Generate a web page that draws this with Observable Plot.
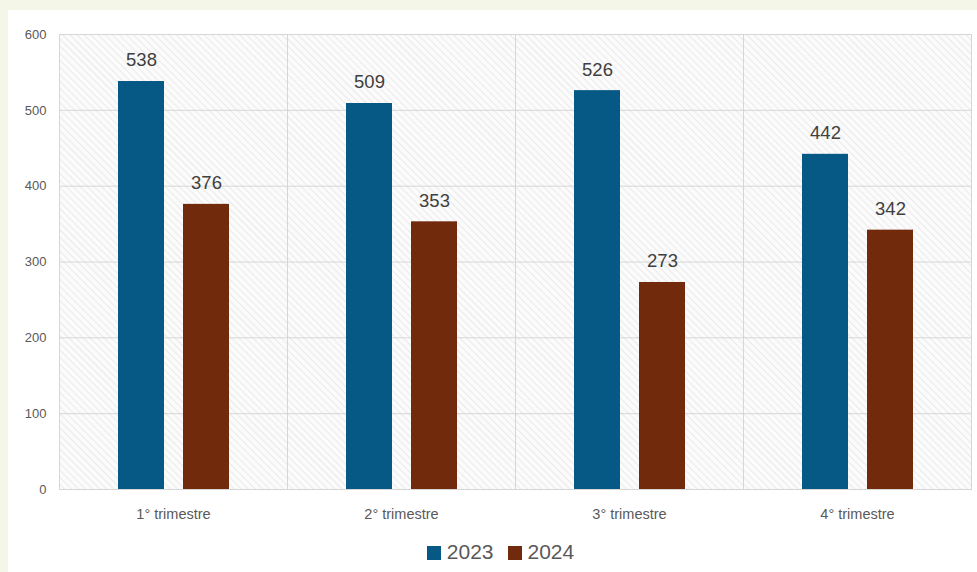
<!DOCTYPE html>
<html>
<head>
<meta charset="utf-8">
<script src="https://cdn.jsdelivr.net/npm/d3@7"></script>
<script src="https://cdn.jsdelivr.net/npm/@observablehq/plot@0.6"></script>
<style>
  html, body { margin: 0; padding: 0; background: #f4f7e8; width: 977px; height: 572px; overflow: hidden; }
  #panel { position: absolute; left: 8px; top: 10px; width: 969px; height: 562px; background: #ffffff; }
  #legend { position: absolute; left: 0; top: 530px; width: 969px; text-align: center; font-family: "Liberation Sans", Arial, sans-serif; font-size: 21px; color: #595959; padding-left: 16px; box-sizing: border-box; }
  #legend span.sw { display: inline-block; width: 14px; height: 14px; margin-right: 6px; vertical-align: -1px; }
  #legend span.item { margin: 0 7px; }
</style>
</head>
<body>
<div id="panel"><div id="chart"></div><div id="legend"></div></div>
<script>
const quarters = ["1° trimestre", "2° trimestre", "3° trimestre", "4° trimestre"];
const years = ["2023", "2024"];
const values2023 = [538, 509, 526, 442];
const values2024 = [376, 353, 273, 342];
const colors = ["#075985", "#722a0d"];
const yTicks = [0, 100, 200, 300, 400, 500, 600];

const rows = [];
quarters.forEach((q, i) => {
  rows.push({quarter: q, year: years[0], value: values2023[i]});
  rows.push({quarter: q, year: years[1], value: values2024[i]});
});

const chart = Plot.plot({
  width: 969,
  height: 525,
  marginLeft: 50,
  marginRight: 6,
  marginTop: 24,
  marginBottom: 46,
  style: {fontFamily: "Liberation Sans, Arial, sans-serif", color: "#595959", background: "transparent"},
  fx: {domain: quarters, padding: 0, label: null},
  x: {domain: years, paddingInner: 0.3, paddingOuter: 0.9, axis: null},
  y: {domain: [0, 600], label: null},
  color: {domain: years, range: colors},
  marks: [
    Plot.frame({fill: "url(#hatch)", stroke: "#d6d6d6", strokeWidth: 1}),
    Plot.gridY(yTicks, {stroke: "#d6d6d6", strokeOpacity: 1, strokeWidth: 1}),
    Plot.axisY(yTicks, {tickSize: 0, tickPadding: 13, fontSize: 13, fill: "#595959", label: null}),
    Plot.axisFx({anchor: "bottom", tickSize: 0, tickPadding: 19, fontSize: 14.5, fill: "#595959", label: null}),
    Plot.barY(rows, {fx: "quarter", x: "year", y: "value", fill: "year"}),
    Plot.text(rows, {fx: "quarter", x: "year", y: "value", text: d => String(d.value), dy: -21, fontSize: 18.5, fill: "#404040"})
  ]
});

// hatch pattern for plot background
const ns = "http://www.w3.org/2000/svg";
const defs = document.createElementNS(ns, "defs");
defs.innerHTML = '<pattern id="hatch" patternUnits="userSpaceOnUse" width="5" height="5" patternTransform="rotate(-45)">' +
  '<rect width="5" height="5" fill="#fbfbfb"/><line x1="0" y1="0" x2="0" y2="5" stroke="#e3e3e3" stroke-width="1.4"/></pattern>';
chart.insertBefore(defs, chart.firstChild);
document.getElementById("chart").appendChild(chart);

const legend = document.getElementById("legend");
years.forEach((y, i) => {
  const item = document.createElement("span");
  item.className = "item";
  const sw = document.createElement("span");
  sw.className = "sw";
  sw.style.background = colors[i];
  item.appendChild(sw);
  item.appendChild(document.createTextNode(y));
  legend.appendChild(item);
});
</script>
</body>
</html>
